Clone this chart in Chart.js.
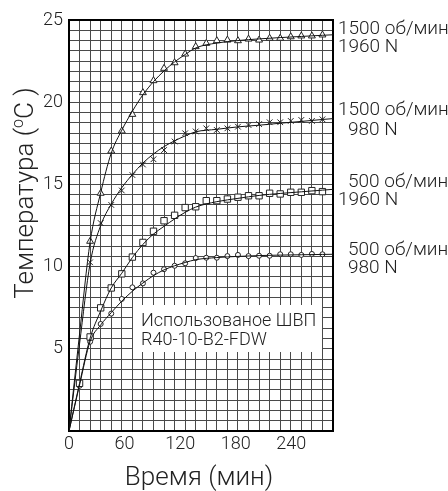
<!DOCTYPE html>
<html><head><meta charset="utf-8">
<script src="https://cdn.jsdelivr.net/npm/chart.js@4.4.1/dist/chart.umd.min.js"></script>
<style>html,body{margin:0;padding:0;background:#fff;}canvas{display:block;}</style>
</head><body>
<canvas id="c" width="448" height="491"></canvas>
<script>
// ---- data (time in minutes, temperature rise in °C) ----
const markerTimes = [11.4, 22.8, 34.2, 45.6, 57, 68.4, 79.8, 91.2, 102.6, 114, 125.4, 136.8,
  148.2, 159.6, 171, 182.4, 193.8, 205.2, 216.6, 228, 239.4, 250.8, 262.2, 273.6];
const tri1500_1960 = [null, 11.54, 14.46, 17.03, 18.25, 19.26, 20.58, 21.31, 22.06, 22.40, 22.93, 23.38,
  23.58, 23.74, 23.78, 23.74, 23.84, 23.78, 23.89, 23.89, 23.98, 24.03, 24.03, 24.09];
const cross1500_980 = [null, 10.26, 12.65, 13.75, 14.63, 15.57, 16.21, 16.53, 17.09, 17.61, 18.11, 18.22,
  18.41, 18.31, 18.41, 18.51, 18.61, 18.67, 18.78, 18.78, 18.86, 18.92, 18.86, 18.96];
const square500_1960 = [2.90, 5.72, 7.49, 8.70, 9.56, 10.58, 11.47, 12.15, 12.79, 13.12, 13.59, 13.64,
  14.01, 14.01, 14.11, 14.22, 14.31, 14.31, 14.46, 14.42, 14.52, 14.52, 14.62, 14.56];
const circle500_980 = [2.75, 5.43, 6.51, 7.14, 8.03, 8.74, 8.98, 9.63, 9.84, 10.05, 10.20, 10.52,
  10.54, 10.54, 10.64, 10.71, 10.64, 10.66, 10.66, 10.75, 10.75, 10.71, 10.77, 10.75];

const curveTimes = [0, 11.4, 22.8, 34.2, 45.6, 57, 68.4, 79.8, 91.2, 102.6, 114, 125.4, 136.8,
  159.6, 182.4, 205.2, 228, 250.8, 273.6, 285];
const curve1500_1960 = [0, 5.9, 11.5, 14.5, 16.9, 18.3, 19.45, 20.45, 21.25, 21.9, 22.45, 22.9, 23.3,
  23.6, 23.75, 23.85, 23.93, 24.0, 24.07, 24.1];
const curve1500_980 = [0, 5.3, 10.2, 12.5, 13.8, 14.8, 15.6, 16.3, 16.85, 17.3, 17.65, 17.95, 18.2,
  18.35, 18.5, 18.6, 18.72, 18.83, 18.95, 19.0];
const curve500_1960 = [0, 2.9, 5.65, 7.3, 8.7, 9.6, 10.55, 11.35, 11.98, 12.45, 12.9, 13.3, 13.62,
  13.95, 14.15, 14.33, 14.45, 14.55, 14.65, 14.7];
const curve500_980 = [0, 2.8, 5.45, 6.45, 7.2, 7.9, 8.5, 9.0, 9.45, 9.8, 10.05, 10.25, 10.42,
  10.55, 10.62, 10.67, 10.7, 10.72, 10.74, 10.75];

const xTickLabels = [0, 60, 120, 180, 240];
const yTickLabels = [5, 10, 15, 20, 25];
const seriesLabels = [["1500 об/мин", "1960 N"], ["1500 об/мин", "980 N"], ["500 об/мин", "1960 N"], ["500 об/мин", "980 N"]];
const noteLines = ["Использованое ШВП", "R40-10-B2-FDW"];
const xTitle = "Время (мин)";
const yTitleParts = ["Температура (", "o", "C )"];

// ---- style / layout ----
const X_MAX = 285, X_CELL = 11.4, Y_MAX = 25, Y_CELL = 0.625;
const FONT = 'Roboto, "Noto Sans", sans-serif';
const TXT = '#222';
const GRID = '#4a4a4a';

function pts(xs, ys) { return xs.map((x, i) => ({x, y: ys[i]})).filter(p => p.y !== null); }
const curveStyle = {showLine: true, borderColor: '#111', borderWidth: 1, pointRadius: 0,
  cubicInterpolationMode: 'monotone', fill: false};
const markStyle = {showLine: false, borderColor: '#222', backgroundColor: '#fff', pointBorderWidth: 1};

const gridXVals = [];
for (let k = 0; k <= 25; k++) gridXVals.push(+(k * X_CELL).toFixed(4));

// caption positions (pixels): [x, baseline] per line
const captionPos = [[[338, 34], [338, 52]], [[338, 115], [348, 135]], [[348, 187], [338, 205]], [[348, 255], [348, 273]]];

const decor = {
  id: 'decor',
  beforeDatasetsDraw(chart) {
    const {ctx, chartArea: a} = chart;
    ctx.save();
    ctx.fillStyle = '#fff';
    ctx.fillRect(133, 305, 189, 47);
    ctx.fillStyle = TXT;
    ctx.font = '300 18px ' + FONT;
    ctx.textAlign = 'left'; ctx.textBaseline = 'alphabetic';
    ctx.fillText(noteLines[0], 141, 326);
    ctx.fillText(noteLines[1], 141, 345);
    ctx.strokeStyle = '#000'; ctx.lineWidth = 2;
    ctx.strokeRect(a.left, a.top, a.right - a.left, a.bottom - a.top);
    ctx.restore();
  },
  afterDraw(chart) {
    const {ctx} = chart;
    ctx.save();
    ctx.fillStyle = TXT;
    ctx.textAlign = 'left'; ctx.textBaseline = 'alphabetic';
    ctx.font = '300 19px ' + FONT;
    seriesLabels.forEach((lines, i) => lines.forEach((t, j) => {
      const [x, y] = captionPos[i][j];
      ctx.fillText(t, x, y);
    }));
    // x title
    ctx.font = '300 26px ' + FONT;
    ctx.textAlign = 'center';
    ctx.fillText(xTitle, 199, 485);
    // y title with superscript
    const big = '300 26px ' + FONT, small = '300 16px ' + FONT;
    ctx.font = big; const w0 = ctx.measureText(yTitleParts[0]).width;
    ctx.font = small; const w1 = ctx.measureText(yTitleParts[1]).width;
    ctx.font = big; const w2 = ctx.measureText(yTitleParts[2]).width;
    const W = w0 + w1 + w2;
    ctx.translate(33, 193);
    ctx.rotate(-Math.PI / 2);
    ctx.textAlign = 'left';
    let x = -W / 2;
    ctx.font = big; ctx.fillText(yTitleParts[0], x, 0); x += w0;
    ctx.font = small; ctx.fillText(yTitleParts[1], x, -10); x += w1;
    ctx.font = big; ctx.fillText(yTitleParts[2], x, 0);
    ctx.restore();
  }
};

new Chart(document.getElementById('c'), {
  type: 'scatter',
  data: {
    datasets: [
      {...curveStyle, data: pts(curveTimes, curve1500_1960)},
      {...curveStyle, data: pts(curveTimes, curve1500_980)},
      {...curveStyle, data: pts(curveTimes, curve500_1960)},
      {...curveStyle, data: pts(curveTimes, curve500_980)},
      {...markStyle, data: pts(markerTimes, tri1500_1960), pointStyle: 'triangle', pointRadius: 4},
      {...markStyle, data: pts(markerTimes, cross1500_980), pointStyle: 'crossRot', pointRadius: 4},
      {...markStyle, data: pts(markerTimes, square500_1960), pointStyle: 'rect', pointRadius: 4.5},
      {...markStyle, data: pts(markerTimes, circle500_980), pointStyle: 'circle', pointRadius: 2.5}
    ]
  },
  options: {
    responsive: false,
    animation: false,
    devicePixelRatio: 1,
    layout: {padding: {left: 0, top: 20, right: 115, bottom: 0}},
    plugins: {legend: {display: false}, tooltip: {enabled: false}},
    scales: {
      x: {
        type: 'linear', min: 0, max: X_MAX,
        afterBuildTicks: s => { s.ticks = gridXVals.map(v => ({value: v})).concat(xTickLabels.filter(v => v !== 0).map(v => ({value: v}))).sort((a, b) => a.value - b.value); },
        afterFit: s => { s.height = 60; },
        ticks: {autoSkip: false, maxRotation: 0, padding: 3, color: TXT, font: {family: FONT, size: 18, weight: '300'},
          callback: v => xTickLabels.includes(v) ? String(v) : ''},
        grid: {drawTicks: false, lineWidth: 1,
          color: c => (c.tick && xTickLabels.includes(c.tick.value) && c.tick.value !== 0) ? 'rgba(0,0,0,0)' : GRID},
        border: {display: false}
      },
      y: {
        type: 'linear', min: 0, max: Y_MAX,
        afterFit: s => { s.width = 69; },
        ticks: {stepSize: Y_CELL, autoSkip: false, padding: 6, color: TXT, font: {family: FONT, size: 18, weight: '300'},
          callback: v => yTickLabels.includes(v) ? String(v) : ''},
        grid: {drawTicks: false, lineWidth: 1, color: GRID},
        border: {display: false}
      }
    }
  },
  plugins: [decor]
});
</script>
</body></html>
